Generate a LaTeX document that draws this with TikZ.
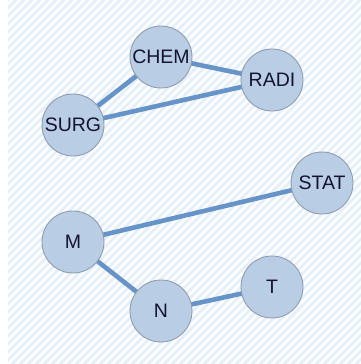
\documentclass[tikz,border=0pt]{standalone}
\usepackage{fontspec}
\setmainfont{Liberation Sans}
\definecolor{hatchbg}{HTML}{E4EFF9}
\definecolor{nodefill}{HTML}{B9CDE5}
\definecolor{nodeline}{HTML}{8E9DB0}
\definecolor{edgecol}{HTML}{6693C8}
\definecolor{txtcol}{HTML}{14142E}
\pgfdeclarelayer{hatch}
\pgfdeclarelayer{edges}
\pgfsetlayers{hatch,edges,main}
\tikzset{
  vtx/.style={circle, fill=nodefill, draw=nodeline, line width=0.9pt,
    minimum size=62pt, inner sep=0pt, font=\fontsize{19.5}{19.5}\selectfont, text=txtcol},
  lnk/.style={draw=edgecol, line width=4.6pt}
}
\begin{document}
\begin{tikzpicture}[x=1pt,y=-1pt]
\useasboundingbox (0,0) rectangle (361,364);
\begin{pgfonlayer}{hatch}
\begin{scope}
  \clip (8,0) rectangle (361,364);
  \fill[hatchbg] (8,0) rectangle (361,364);
  \foreach \i in {0,8,...,760} {
    \draw[white, line width=2.6pt] (\i-400,364) -- (\i-36,0);
  }
\end{scope}
\end{pgfonlayer}
\node[vtx] (chem) at (161,57) {CHEM};
\node[vtx] (radi) at (272,80) {RADI};
\node[vtx] (surg) at (73,125) {SURG};
\node[vtx] (stat) at (322,183) {STAT};
\node[vtx] (m) at (73,242) {M};
\node[vtx] (n) at (161,311) {N};
\node[vtx] (t) at (272,287) {T};
\begin{pgfonlayer}{edges}
\draw[lnk] (chem.center) -- (radi.center);
\draw[lnk] (chem.center) -- (surg.center);
\draw[lnk] (surg.center) -- (radi.center);
\draw[lnk] (m.center) -- (stat.center);
\draw[lnk] (m.center) -- (n.center);
\draw[lnk] (n.center) -- (t.center);
\end{pgfonlayer}
\end{tikzpicture}
\end{document}
